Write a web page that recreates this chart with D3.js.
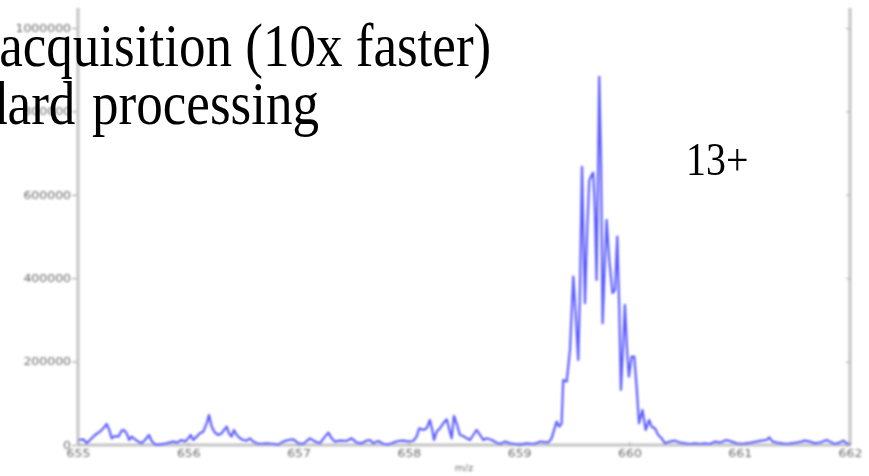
<!DOCTYPE html>
<html>
<head>
<meta charset="utf-8">
<script src="https://cdn.jsdelivr.net/npm/d3@7"></script>
<style>
  html, body { margin: 0; padding: 0; background: #fff; }
  svg { display: block; }
</style>
</head>
<body>
<svg id="chart" width="869" height="476"></svg>
<script>
// m/z positions of the profile spectrum (13+ charge state)
const mz = [
  655.003, 655.048, 655.079, 655.109, 655.154, 655.199, 655.230, 655.260, 655.284, 655.305,
  655.335, 655.366, 655.396, 655.417, 655.441, 655.465, 655.486, 655.517, 655.547, 655.577,
  655.607, 655.644, 655.668, 655.698, 655.743, 655.804, 655.864, 655.895, 655.940, 655.970,
  656.000, 656.022, 656.045, 656.076, 656.106, 656.136, 656.167, 656.188, 656.212, 656.242,
  656.272, 656.303, 656.324, 656.348, 656.369, 656.393, 656.414, 656.439, 656.469, 656.499,
  656.529, 656.559, 656.590, 656.620, 656.650, 656.711, 656.771, 656.816, 656.862, 656.907,
  656.952, 656.997, 657.043, 657.103, 657.149, 657.194, 657.239, 657.270, 657.300, 657.330,
  657.375, 657.436, 657.481, 657.527, 657.572, 657.617, 657.647, 657.677, 657.723, 657.768,
  657.813, 657.859, 657.904, 657.949, 657.995, 658.040, 658.070, 658.094, 658.131, 658.161,
  658.191, 658.212, 658.228, 658.252, 658.282, 658.312, 658.343, 658.364, 658.388, 658.409,
  658.433, 658.463, 658.493, 658.524, 658.554, 658.584, 658.614, 658.645, 658.675, 658.705,
  658.751, 658.796, 658.826, 658.871, 658.917, 658.962, 659.007, 659.068, 659.128, 659.173,
  659.188, 659.264, 659.294, 659.340, 659.364, 659.385, 659.400, 659.431, 659.461, 659.491,
  659.512, 659.536, 659.551, 659.570, 659.581, 659.597, 659.618, 659.636, 659.657, 659.672,
  659.687, 659.702, 659.717, 659.726, 659.742, 659.757, 659.778, 659.793, 659.817, 659.847,
  659.869, 659.890, 659.908, 659.923, 659.944, 659.959, 659.980, 659.995, 660.020, 660.044,
  660.065, 660.087, 660.118, 660.148, 660.178, 660.201, 660.231, 660.261, 660.292, 660.322,
  660.367, 660.413, 660.458, 660.503, 660.549, 660.594, 660.639, 660.685, 660.730, 660.775,
  660.821, 660.881, 660.926, 660.972, 661.017, 661.062, 661.108, 661.153, 661.198, 661.244,
  661.268, 661.298, 661.334, 661.380, 661.425, 661.470, 661.516, 661.561, 661.591, 661.636,
  661.682, 661.727, 661.788, 661.818, 661.863, 661.908, 661.939, 661.969, 662.000
];

// intensity (counts) at each m/z position
const intensity = [
  12000, 13600, 4000, 12000, 24000, 32000, 40000, 50400, 36000, 16000,
  21600, 20000, 34400, 36000, 28000, 12000, 20000, 13600, 8000, 4000,
  12000, 24000, 9600, 1000, 1000, 4000, 8000, 5600, 12000, 8000,
  16000, 24000, 12000, 20000, 28000, 32000, 52000, 72000, 44000, 29600,
  24000, 28000, 36000, 44000, 28000, 20000, 36000, 24000, 16000, 12000,
  10400, 16000, 8000, 4000, 2400, 4000, 2400, 1000, 8000, 12000,
  13600, 4000, 2400, 16000, 8000, 4000, 20000, 29600, 16000, 8000,
  10400, 9600, 16000, 5600, 4000, 10400, 12000, 4000, 9600, 2400,
  1000, 5600, 9600, 10400, 8000, 9600, 20000, 40000, 36000, 40000,
  60000, 36000, 12000, 32000, 40000, 52000, 61600, 40000, 16000, 69600,
  52000, 24000, 21600, 16000, 12000, 24000, 36000, 24000, 12000, 16000,
  12000, 5600, 2400, 8000, 4000, 2400, 1000, 4000, 2400, 5600,
  8000, 5600, 16000, 56000, 44000, 52000, 156000, 152000, 228000, 404000,
  316000, 204000, 364000, 667000, 524000, 340000, 524000, 635000, 647000, 653000,
  564000, 396000, 683000, 883000, 683000, 292000, 444000, 540000, 444000, 364000,
  372000, 500000, 324000, 132000, 244000, 336000, 220000, 164000, 212000, 212000,
  140000, 52000, 84000, 36000, 60000, 44000, 40000, 24000, 16000, 4000,
  8000, 10400, 5600, 4000, 2400, 4000, 2400, 4000, 2400, 8000,
  5600, 12000, 8000, 4000, 2400, 4000, 5600, 8000, 10400, 12000,
  18400, 8000, 5600, 4000, 2400, 4000, 5600, 8000, 10400, 8000,
  4000, 5600, 12000, 8000, 2400, 5600, 10400, 4000, 2400
];

const xTicks = [655, 656, 657, 658, 659, 660, 661, 662];
const yTicks = [0, 200000, 400000, 600000, 800000, 1000000];
const xLabel = "m/z";
const chargeLabel = "13+";
const titleLines = ["acquisition (10x faster)", "standard processing"];

const svg = d3.select("#chart");

const defs = svg.append("defs");
defs.append("filter").attr("id", "soft")
  .attr("x", "-5%").attr("y", "-5%").attr("width", "110%").attr("height", "110%")
  .append("feGaussianBlur").attr("stdDeviation", 0.9);
defs.append("filter").attr("id", "softer")
  .attr("x", "-10%").attr("y", "-20%").attr("width", "120%").attr("height", "140%")
  .append("feGaussianBlur").attr("stdDeviation", 1.1);

const plotLeft = 78, plotRight = 850, plotBottom = 445, plotTop = 8;

const x = d3.scaleLinear().domain([655, 662]).range([plotLeft, plotRight]);
const y = d3.scaleLinear().domain([0, 1000000]).range([plotBottom, 28]);

const plot = svg.append("g").attr("filter", "url(#soft)");

// frame: left, right and bottom spines
const frameColor = "#c4c4c4";
plot.append("line").attr("x1", plotLeft).attr("x2", plotLeft).attr("y1", plotTop).attr("y2", plotBottom)
  .attr("stroke", frameColor).attr("stroke-width", 3);
plot.append("line").attr("x1", plotRight).attr("x2", plotRight).attr("y1", plotTop).attr("y2", plotBottom)
  .attr("stroke", frameColor).attr("stroke-width", 3);
plot.append("line").attr("x1", plotLeft).attr("x2", plotRight).attr("y1", plotBottom).attr("y2", plotBottom)
  .attr("stroke", frameColor).attr("stroke-width", 3);

// spectrum trace
const points = mz.map((m, i) => [m, intensity[i]]);
const line = d3.line().x(d => x(d[0])).y(d => y(d[1]));
plot.append("path")
  .datum(points)
  .attr("d", line)
  .attr("fill", "none")
  .attr("stroke", "#5c5cff")
  .attr("stroke-width", 2.2)
  .attr("stroke-linejoin", "round");

// axes with d3 axis generators, restyled as small grey ticks
const labels = svg.append("g").attr("filter", "url(#softer)");

const yAxis = d3.axisLeft(y).tickValues(yTicks).tickFormat(d3.format("d")).tickSize(5).tickPadding(1);
const gy = labels.append("g").attr("transform", `translate(${plotLeft - 1},0)`).call(yAxis);
gy.select(".domain").remove();
gy.selectAll(".tick line").attr("stroke", "#999").attr("stroke-width", 1);
gy.selectAll(".tick text")
  .attr("fill", "#6a6a6a")
  .attr("font-family", "DejaVu Sans")
  .attr("font-size", 10)
  .attr("x", 0)
  .attr("transform", "translate(-6,0) scale(1.25,1)");

const rTicks = d3.axisRight(y).tickValues(yTicks).tickFormat("").tickSize(-4);
const gr = labels.append("g").attr("transform", `translate(${plotRight},0)`).call(rTicks);
gr.select(".domain").remove();
gr.selectAll(".tick line").attr("stroke", "#aaa");

const xAxis = d3.axisBottom(x).tickValues(xTicks).tickFormat(d3.format("d")).tickSize(-4).tickPadding(2);
const gx = labels.append("g").attr("transform", `translate(0,${plotBottom + 1})`).call(xAxis);
gx.select(".domain").remove();
gx.selectAll(".tick line").attr("stroke", "#aaa");
gx.selectAll(".tick text")
  .attr("fill", "#6a6a6a")
  .attr("font-family", "DejaVu Sans")
  .attr("font-size", 10)
  .attr("y", 0)
  .attr("dy", 0)
  .attr("transform", "translate(0,11) scale(1.25,1)");

labels.append("text")
  .attr("x", (plotLeft + plotRight) / 2 / 1.25)
  .attr("y", 471)
  .attr("transform", "scale(1.25,1)")
  .attr("text-anchor", "middle")
  .attr("fill", "#6a6a6a")
  .attr("font-family", "DejaVu Sans")
  .attr("font-size", 8)
  .text(xLabel);

// slide text over the chart, set in a tall, slightly condensed serif
const serif = "'Liberation Serif', 'Times New Roman', serif";
function condensed(sel, ax, sx) {
  return sel.attr("transform", `translate(${ax},0) scale(${sx},1) translate(${-ax},0)`);
}
condensed(svg.append("text")
  .attr("x", -1).attr("y", 66)
  .attr("font-family", serif).attr("font-size", 61).attr("fill", "#000")
  .text(titleLines[0]), 0, 0.87);
condensed(svg.append("text")
  .attr("x", 319).attr("y", 124)
  .attr("text-anchor", "end")
  .attr("word-spacing", 4)
  .attr("font-family", serif).attr("font-size", 61).attr("fill", "#000")
  .text(titleLines[1]), 319, 0.87);
condensed(svg.append("text")
  .attr("x", 686).attr("y", 175)
  .attr("font-family", serif).attr("font-size", 47).attr("fill", "#000")
  .text(chargeLabel), 686, 0.85);
</script>
</body>
</html>
